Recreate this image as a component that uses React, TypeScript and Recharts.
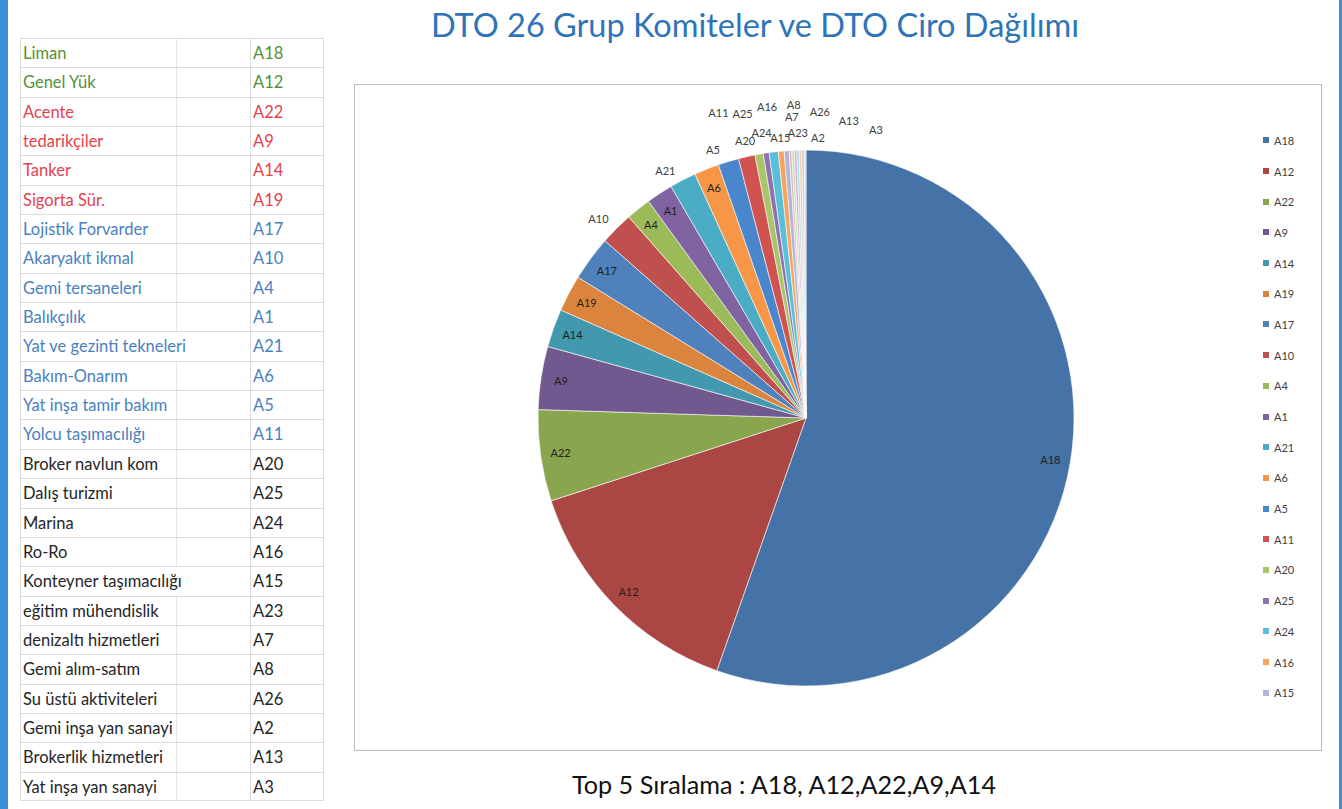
import { PieChart, Pie, Cell, Legend } from 'recharts';

// left-hand table: committee name and its code, in the slide's order
const committees = [
  'Liman', 'Genel Yük', 'Acente', 'tedarikçiler', 'Tanker', 'Sigorta Sür.',
  'Lojistik Forvarder', 'Akaryakıt ikmal', 'Gemi tersaneleri', 'Balıkçılık',
  'Yat ve gezinti tekneleri', 'Bakım-Onarım', 'Yat inşa tamir bakım', 'Yolcu taşımacılığı',
  'Broker navlun kom', 'Dalış turizmi', 'Marina', 'Ro-Ro', 'Konteyner taşımacılığı',
  'eğitim mühendislik', 'denizaltı hizmetleri', 'Gemi alım-satım', 'Su üstü aktiviteleri',
  'Gemi inşa yan sanayi', 'Brokerlik hizmetleri', 'Yat inşa yan sanayi',
];
const codes = [
  'A18', 'A12', 'A22', 'A9', 'A14', 'A19', 'A17', 'A10', 'A4', 'A1', 'A21', 'A6', 'A5',
  'A11', 'A20', 'A25', 'A24', 'A16', 'A15', 'A23', 'A7', 'A8', 'A26', 'A2', 'A13', 'A3',
];
// share of turnover (%)
const shares = [
  55.4, 14.6, 5.5, 3.8, 2.3, 2.2, 2.7, 2.0, 1.5, 1.6, 1.6, 1.5, 1.25,
  1.0, 0.5, 0.35, 0.55, 0.35, 0.3, 0.15, 0.15, 0.15, 0.15, 0.15, 0.15, 0.1,
];
const legendCount = 19; // excel cut the legend after A15

const title = 'DTO 26 Grup Komiteler ve DTO Ciro Dağılımı';
const footer = 'Top 5 Sıralama : A18, A12,A22,A9,A14';

// excel 2007 style colour cycle
const palette = [
  '#4572A7', '#AA4643', '#89A54E', '#71588F', '#4198AF', '#DB843D',
  '#4F81BD', '#C0504D', '#9BBB59', '#8064A2', '#4BACC6', '#F79646',
  '#4A86CB', '#D0534F', '#A8C56A', '#8C72AE', '#5AC0D8', '#F9A45E',
  '#AFB6D8', '#DDB8B6', '#CFDCB6', '#C2B6D4', '#B3D9E4', '#F6CBA7',
  '#C5D0E4', '#E6C9C8',
];

const pieData = codes.map((code, i) => ({ name: code, value: shares[i] }));

const FONT = 'Lato, "Open Sans", sans-serif';
const RAD = Math.PI / 180;

const insideLabels = ['A18', 'A12', 'A22', 'A9', 'A14', 'A19', 'A17', 'A4', 'A1', 'A6'];
// outside labels: [radius px, angular shift in degrees, clockwise]
const outsideLabels: Record<string, [number, number]> = {
  A10: [288, -1.1], A21: [285, -2.2], A5: [284, -2.3], A11: [318, -3.2],
  A20: [284, -2.3], A25: [311, -3.2], A24: [289, -1.9], A16: [314, -1.8],
  A15: [282, -1.1], A23: [286, 1.7], A7: [302, 0.1], A8: [314, 0],
  A26: [307, 4.3], A2: [281, 3.6], A13: [301, 8.8], A3: [297, 13.8],
};

const SliceLabel = (props: any) => {
  const { cx, cy, midAngle, outerRadius, name } = props;
  let r = outerRadius * 0.925;
  let a = midAngle;
  const inside = insideLabels.includes(name);
  if (!inside && outsideLabels[name]) {
    r = outerRadius + (outsideLabels[name][0] - 268);
    a = midAngle - outsideLabels[name][1];
  }
  const x = cx + r * Math.cos(a * RAD);
  const y = cy - r * Math.sin(a * RAD);
  return (
    <text x={x} y={y} textAnchor="middle" dominantBaseline="central"
      fontSize={11} fontFamily={FONT} fill={inside ? '#1f1f1f' : '#404040'}>
      {name}
    </text>
  );
};

const renderLegend = () => (
  <div style={{ fontFamily: FONT, fontSize: 11, color: '#404040' }}>
    {codes.slice(0, legendCount).map((code, i) => (
      <div key={code} style={{ height: 30.7, display: 'flex', alignItems: 'center' }}>
        <span style={{ width: 6, height: 6, background: palette[i], marginRight: 5, display: 'inline-block' }} />
        {code}
      </div>
    ))}
  </div>
);

const toneOf = (i: number) => (i < 2 ? '#55903B' : i < 6 ? '#E4424C' : i < 14 ? '#4A7FC1' : '#262626');

function CodeTable() {
  const rowH = 29.35;
  return (
    <div style={{ position: 'absolute', left: 20, top: 38, width: 304, fontFamily: FONT, fontSize: 16.5 }}>
      {committees.map((name, i) => (
        <div key={name} style={{
          position: 'relative', height: rowH, borderTop: '1px solid #dcdcdc',
          borderLeft: '1px solid #dcdcdc', borderRight: '1px solid #dcdcdc',
          borderBottom: i === committees.length - 1 ? '1px solid #dcdcdc' : 'none',
          boxSizing: 'border-box', color: toneOf(i),
        }}>
          <span style={{ position: 'absolute', left: 2, top: 4, whiteSpace: 'nowrap' }}>{name}</span>
          {name.length <= 20 && (
            <span style={{ position: 'absolute', left: 155, top: 0, bottom: 0, borderLeft: '1px solid #e6e6e6' }} />
          )}
          <span style={{ position: 'absolute', left: 229, top: 0, bottom: 0, borderLeft: '1px solid #dcdcdc' }} />
          <span style={{ position: 'absolute', left: 232, top: 4 }}>{codes[i]}</span>
        </div>
      ))}
    </div>
  );
}

export default function App() {
  return (
    <div style={{ position: 'absolute', left: 0, top: 0, width: 1342, height: 809, background: '#fff', overflow: 'hidden' }}>
      <div style={{ position: 'absolute', left: 0, top: 0, width: 8, height: 809, background: '#3A8FD8' }} />
      <div style={{ position: 'absolute', left: 1339, top: 0, width: 3, height: 809, background: '#3A8FD8' }} />

      <div style={{
        position: 'absolute', left: 355, top: 5, width: 800, textAlign: 'center',
        fontFamily: FONT, fontSize: 32.5, color: '#2F74B8',
      }}>
        {title}
      </div>

      <CodeTable />

      <div style={{ position: 'absolute', left: 354, top: 84, width: 968, height: 667, border: '1.5px solid #bcbcbc', boxSizing: 'border-box' }}>
        <PieChart width={965} height={664}>
          <Pie
            data={pieData}
            dataKey="value"
            nameKey="name"
            cx={446}
            cy={328}
            outerRadius={268}
            startAngle={90}
            endAngle={-270}
            stroke="#ffffff"
            strokeWidth={0.6}
            label={SliceLabel}
            labelLine={false}
            isAnimationActive={false}
          >
            {pieData.map((d, i) => (
              <Cell key={d.name} fill={palette[i]} />
            ))}
          </Pie>
          <Legend content={renderLegend} layout="vertical" wrapperStyle={{ left: 908, top: 40, width: 50 }} />
        </PieChart>
      </div>

      <div style={{
        position: 'absolute', left: 344, top: 769, width: 880, textAlign: 'center',
        fontFamily: FONT, fontSize: 25.2, color: '#111',
      }}>
        {footer}
      </div>
    </div>
  );
}
